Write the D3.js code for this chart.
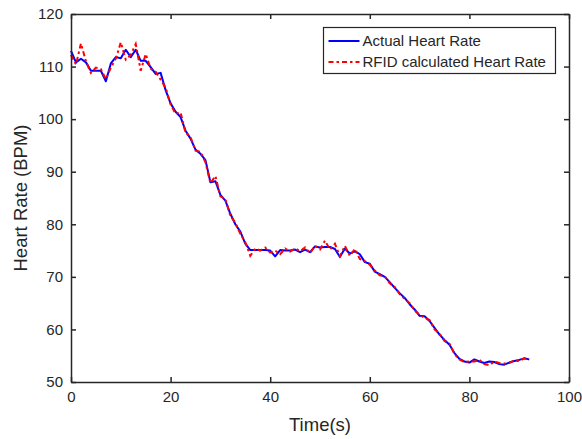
<!DOCTYPE html>
<html>
<head>
<meta charset="utf-8">
<script src="https://cdn.jsdelivr.net/npm/d3@7"></script>
<style>
	body { margin: 0; background: #fff; }
	text { font-family: "Liberation Sans", Arial, sans-serif; fill: #262626; }
</style>
</head>
<body>
<script>
// Data (one sample per second)
var time = d3.range(0, 93);
var actualHR = [
	113.0, 110.8, 111.5, 110.8, 109.2, 109.2, 109.2, 107.2, 110.6, 111.8,
	111.6, 113.2, 111.8, 113.2, 111.1, 111.1, 109.9, 108.6, 108.8, 105.5,
	103.0, 101.4, 100.4, 97.8, 96.3, 94.2, 93.4, 92.2, 88.0, 88.2,
	85.6, 84.5, 82.0, 80.0, 78.6, 76.3, 75.1, 75.1, 75.1, 75.1,
	75.0, 73.9, 75.1, 75.0, 75.0, 75.2, 74.7, 75.2, 74.7, 75.8,
	75.6, 75.7, 75.7, 75.3, 73.8, 75.4, 74.4, 74.9, 74.3, 72.8,
	72.5, 71.0, 70.5, 70.0, 69.0, 67.9, 66.9, 66.0, 64.8, 63.8,
	62.6, 62.5, 61.6, 60.3, 59.0, 58.0, 57.1, 55.5, 54.4, 53.9,
	53.7, 54.3, 53.9, 53.6, 53.9, 53.8, 53.4, 53.3, 53.7, 54.0,
	54.2, 54.5, 54.3
];
var rfidHR = [
	112.2, 110.4, 114.4, 111.0, 108.8, 109.8, 109.5, 107.6, 109.8, 111.5,
	114.6, 111.3, 112.2, 114.3, 109.2, 112.4, 109.6, 109.0, 107.5, 106.0,
	102.8, 101.0, 101.3, 97.4, 96.6, 94.0, 93.8, 91.8, 87.8, 89.2,
	85.3, 84.8, 81.6, 80.3, 78.2, 76.6, 74.0, 75.4, 75.0, 75.6,
	74.6, 75.0, 74.3, 75.4, 74.8, 75.4, 74.9, 75.6, 74.5, 75.9,
	75.2, 76.9, 75.2, 76.3, 73.9, 75.9, 74.0, 75.3, 73.4, 73.0,
	72.3, 71.2, 70.3, 70.1, 68.8, 68.1, 66.7, 65.8, 65.0, 63.6,
	62.8, 62.2, 61.8, 60.0, 59.2, 57.8, 57.3, 55.3, 54.3, 53.8,
	53.9, 53.9, 54.2, 53.4, 53.2, 53.9, 53.6, 53.5, 53.6, 54.1,
	54.0, 54.5, 54.2
];
var xTicks = [0, 20, 40, 60, 80, 100];
var yTicks = [50, 60, 70, 80, 90, 100, 110, 120];
var seriesNames = ["Actual Heart Rate", "RFID calculated Heart Rate"];

// Layout
var W = 582, H = 439;
var margin = {top: 14, right: 13, bottom: 57, left: 71};
var width = W - margin.left - margin.right;
var height = H - margin.top - margin.bottom;
var axisColor = "#262626";
var tickLen = 5;
var redDash = "5,3,2.5,3";

var svg = d3.select("body").append("svg")
	.attr("width", W)
	.attr("height", H);

var g = svg.append("g")
	.attr("transform", "translate(" + margin.left + "," + margin.top + ")");

var x = d3.scaleLinear().domain([0, 100]).range([0, width]);
var y = d3.scaleLinear().domain([50, 120]).range([height, 0]);

// lines
var hrLine = d3.line()
	.x(function(d, i) { return x(time[i]); })
	.y(function(d) { return y(d); });

g.append("path")
	.datum(actualHR)
	.attr("fill", "none")
	.attr("stroke", "#0000ff")
	.attr("stroke-width", 2)
	.attr("stroke-linejoin", "round")
	.attr("d", hrLine);

g.append("path")
	.datum(rfidHR)
	.attr("fill", "none")
	.attr("stroke", "#ff0000")
	.attr("stroke-width", 2)
	.attr("stroke-dasharray", redDash)
	.attr("d", hrLine);

// axes (MATLAB style box, ticks inside on all four sides)
var xBottom = g.append("g")
	.attr("transform", "translate(0," + height + ")")
	.call(d3.axisBottom(x).tickValues(xTicks).tickSizeInner(-tickLen).tickSizeOuter(0).tickPadding(9));
var xTop = g.append("g")
	.call(d3.axisTop(x).tickValues(xTicks).tickSizeInner(-tickLen).tickSizeOuter(0).tickFormat(""));
var yLeft = g.append("g")
	.call(d3.axisLeft(y).tickValues(yTicks).tickSizeInner(-tickLen).tickSizeOuter(0).tickPadding(8));
var yRight = g.append("g")
	.attr("transform", "translate(" + width + ",0)")
	.call(d3.axisRight(y).tickValues(yTicks).tickSizeInner(-tickLen).tickSizeOuter(0).tickFormat(""));

[xBottom, xTop, yLeft, yRight].forEach(function(a) {
	a.select(".domain").attr("stroke", axisColor).attr("stroke-width", 1.5);
	a.selectAll(".tick line").attr("stroke", axisColor).attr("stroke-width", 1.5);
	a.selectAll(".tick text")
		.attr("fill", axisColor)
		.style("font-family", "'Liberation Sans', Arial, sans-serif")
		.style("font-size", "15px");
});

// axis labels
g.append("text")
	.attr("x", width / 2)
	.attr("y", height + 49)
	.attr("text-anchor", "middle")
	.style("font-size", "18.5px")
	.text("Time(s)");

g.append("text")
	.attr("transform", "translate(" + (27 - margin.left) + "," + (height / 2) + ") rotate(-90)")
	.attr("text-anchor", "middle")
	.style("font-size", "18.5px")
	.text("Heart Rate (BPM)");

// legend
var legend = svg.append("g").attr("transform", "translate(323.5,27.5)");
legend.append("rect")
	.attr("width", 232)
	.attr("height", 46)
	.attr("fill", "#fff")
	.attr("stroke", axisColor)
	.attr("stroke-width", 1.2);

var legendStyles = [
	{color: "#0000ff", dash: null},
	{color: "#ff0000", dash: redDash}
];
seriesNames.forEach(function(name, i) {
	var ly = 13.5 + i * 21;
	legend.append("line")
		.attr("x1", 5).attr("x2", 36)
		.attr("y1", ly).attr("y2", ly)
		.attr("stroke", legendStyles[i].color)
		.attr("stroke-width", 2)
		.attr("stroke-dasharray", legendStyles[i].dash);
	legend.append("text")
		.attr("x", 39)
		.attr("y", ly)
		.attr("dy", "0.35em")
		.style("font-size", "15px")
		.text(name);
});
</script>
</body>
</html>
